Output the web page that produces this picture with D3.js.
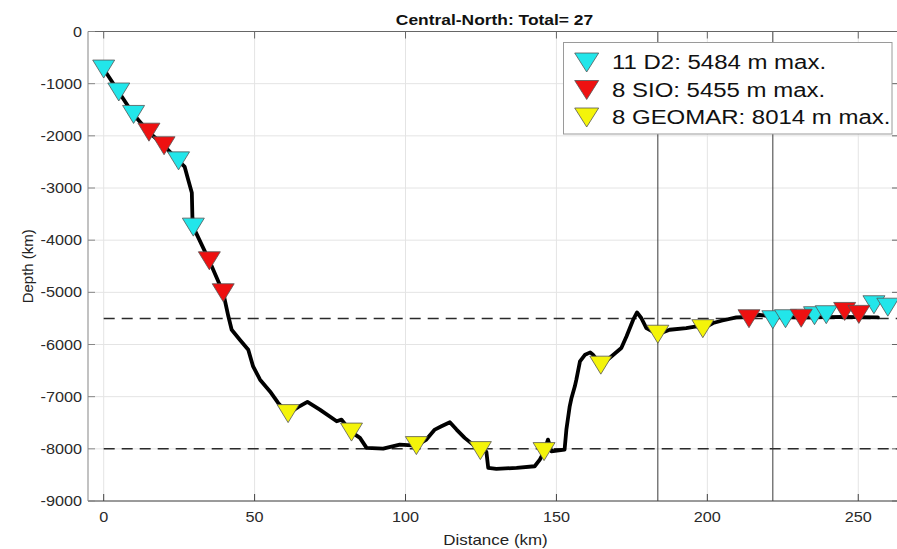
<!DOCTYPE html>
<html>
<head>
<meta charset="utf-8">
<script src="https://cdn.jsdelivr.net/npm/d3@7"></script>
<style>
  html, body { margin: 0; padding: 0; background: #fff; }
  svg { display: block; font-family: "Liberation Sans", Arial, Helvetica, sans-serif; }
</style>
</head>
<body>
<svg id="chart" width="897" height="549"></svg>
<script>
// ---------------- data ----------------
const titleText = "Central-North: Total= 27";
const xLabel = "Distance (km)";
const yLabel = "Depth (km)";
const xTicks = [0, 50, 100, 150, 200, 250];
const yTicks = [0, -1000, -2000, -3000, -4000, -5000, -6000, -7000, -8000, -9000];

// bathymetry profile (km, m)
const profileKm = [0, 5, 9.9, 15, 20, 24.8, 26.8, 28.0, 29.2, 29.4, 29.7, 35, 39.6, 41.3, 42.4, 45.1, 47.9, 49.5, 51.8, 55.1, 57.8, 61.1, 64.4, 67.5, 71.6, 77.2, 78.8, 82.1, 84.9, 87.1, 92.6, 98.1, 103.6, 106.9, 109.7, 111.9, 114.7, 116.9, 119.6, 124.8, 126.8, 127.4, 130.1, 136.8, 142.8, 144.5, 145.9, 147.2, 148.3, 152.7, 153.3, 154.4, 155.0, 156.1, 156.6, 157.8, 159.5, 161.2, 162.1, 164.7, 167.6, 171.5, 173.2, 175.4, 176.7, 178.1, 179.8, 183.6, 187.5, 193.0, 196.4, 198.5, 201.9, 205.0, 209.6, 213.8, 217.3, 221.7, 226.0, 231.0, 235.5, 239.4, 245.5, 250.2, 256.5];
const profileDepth = [-720, -1160, -1590, -1930, -2190, -2480, -2590, -2840, -3090, -3570, -3750, -4395, -5008, -5460, -5716, -5908, -6100, -6420, -6674, -6900, -7120, -7325, -7200, -7100, -7248, -7472, -7440, -7679, -7790, -7982, -7995, -7918, -7938, -7823, -7631, -7568, -7491, -7631, -7790, -8034, -8060, -8365, -8384, -8365, -8334, -8206, -8053, -7823, -8047, -8015, -7631, -7185, -7024, -6802, -6674, -6323, -6195, -6151, -6195, -6396, -6258, -6067, -5845, -5530, -5385, -5492, -5684, -5803, -5717, -5684, -5653, -5697, -5588, -5540, -5480, -5470, -5430, -5470, -5475, -5480, -5480, -5475, -5470, -5475, -5480];

// instrument deployments
const d2Km = [0, 5, 9.9, 24.8, 29.7, 221.7, 225.9, 235.5, 239.4, 255.2, 259.8];
const d2Depth = [-720, -1160, -1590, -2480, -3750, -5525, -5506, -5448, -5429, -5238, -5285];
const sioKm = [15, 20, 35, 39.6, 213.8, 231.1, 245.5, 250.2];
const sioDepth = [-1930, -2190, -4395, -5008, -5506, -5496, -5366, -5423];
const geomarKm = [61.1, 82.1, 103.6, 124.8, 145.9, 164.7, 183.6, 198.5];
const geomarDepth = [-7325, -7679, -7938, -8034, -8053, -6396, -5803, -5697];

const legendLabels = ["11 D2: 5484 m max.", "8 SIO: 5455 m max.", "8 GEOMAR: 8014 m max."];
const refDepths = [-5500, -8000];
const refStartKm = 0;
const vLineKm = [183.6, 221.7];

// ---------------- layout ----------------
const svg = d3.select("#chart");
const L = 88, R = 899, T = 31.5, B = 501;
const x = d3.scaleLinear().domain([-5.2, 263.5]).range([L, R]);
const y = d3.scaleLinear().domain([-9000, 0]).range([B, T]);
const SX = 1.16; // horizontal stretch of the original raster

function stext(g, px, py, str, opts) {
  const t = g.append("text")
    .attr("transform", `translate(${px},${py}) scale(${opts.sx || SX},1)`)
    .attr("text-anchor", opts.anchor || "start")
    .style("font-size", opts.size + "px")
    .style("fill", opts.fill || "#222")
    .text(str);
  if (opts.bold) t.style("font-weight", "bold");
  return t;
}

// grid
const grid = svg.append("g");
grid.selectAll(".gx").data(xTicks).join("line")
  .attr("x1", d => x(d)).attr("x2", d => x(d)).attr("y1", T).attr("y2", B)
  .attr("stroke", "#e4e4e4").attr("stroke-width", 1);
grid.selectAll(".gy").data(yTicks).join("line")
  .attr("x1", L).attr("x2", R).attr("y1", d => y(d)).attr("y2", d => y(d))
  .attr("stroke", "#e4e4e4").attr("stroke-width", 1);

// reference dashed lines
svg.append("g").selectAll("line").data(refDepths).join("line")
  .attr("x1", x(refStartKm)).attr("x2", R).attr("y1", d => y(d)).attr("y2", d => y(d))
  .attr("stroke", "#2a2a2a").attr("stroke-width", 1.5).attr("stroke-dasharray", "11,7");

// vertical lines
svg.append("g").selectAll("line").data(vLineKm).join("line")
  .attr("x1", d => x(d)).attr("x2", d => x(d)).attr("y1", T).attr("y2", B)
  .attr("stroke", "#3a3a3a").attr("stroke-width", 1);

// profile
const prof = profileKm.map((k, i) => [k, profileDepth[i]]);
svg.append("path").datum(prof)
  .attr("d", d3.line().x(d => x(d[0])).y(d => y(d[1])))
  .attr("fill", "none").attr("stroke", "#000").attr("stroke-width", 3.8)
  .attr("stroke-linejoin", "round").attr("stroke-linecap", "round");

// markers
function tri(w, h) { return `M${-w/2},${-h/2} L${w/2},${-h/2} L0,${h/2} Z`; }
const series = [
  { km: d2Km, dep: d2Depth, color: "#22e6ea" },
  { km: sioKm, dep: sioDepth, color: "#ee1111" },
  { km: geomarKm, dep: geomarDepth, color: "#f4f40a" }
];
series.forEach(s => {
  svg.append("g").selectAll("path").data(s.km.map((k, i) => [k, s.dep[i]])).join("path")
    .attr("transform", d => `translate(${x(d[0])},${y(d[1])})`)
    .attr("d", tri(22, 18))
    .attr("fill", s.color).attr("stroke", "#555").attr("stroke-width", 0.8);
});

// axes box
const ax = svg.append("g");
ax.append("line").attr("x1", L).attr("x2", R).attr("y1", B).attr("y2", B).attr("stroke", "#444").attr("stroke-width", 1.2);
ax.append("line").attr("x1", L).attr("x2", R).attr("y1", T).attr("y2", T).attr("stroke", "#666").attr("stroke-width", 1.2);
ax.append("line").attr("x1", L).attr("x2", L).attr("y1", T).attr("y2", B).attr("stroke", "#999").attr("stroke-width", 1.2);
ax.append("line").attr("x1", R).attr("x2", R).attr("y1", T).attr("y2", B).attr("stroke", "#666").attr("stroke-width", 1.2);
const TL = 7;
ax.selectAll(".tb").data(xTicks).join("line")
  .attr("x1", d => x(d)).attr("x2", d => x(d)).attr("y1", B).attr("y2", B - TL).attr("stroke", "#444");
ax.selectAll(".tt").data(xTicks).join("line")
  .attr("x1", d => x(d)).attr("x2", d => x(d)).attr("y1", T).attr("y2", T + TL).attr("stroke", "#666");
ax.selectAll(".tl").data(yTicks).join("line")
  .attr("x1", L).attr("x2", L + TL).attr("y1", d => y(d)).attr("y2", d => y(d)).attr("stroke", "#888");
ax.selectAll(".tr").data(yTicks).join("line")
  .attr("x1", R).attr("x2", R - TL).attr("y1", d => y(d)).attr("y2", d => y(d)).attr("stroke", "#666");

// tick labels
xTicks.forEach(t => stext(ax, x(t), 522, String(t), { size: 14, anchor: "middle", fill: "#2a2a2a" }));
yTicks.forEach(t => stext(ax, 82, y(t) + 5, String(t), { size: 14, anchor: "end", fill: "#2a2a2a" }));

// axis labels
stext(svg, 495.5, 545, xLabel, { size: 15, anchor: "middle", sx: 1.13 });
svg.append("text")
  .attr("transform", `translate(33,${(T + B) / 2}) rotate(-90)`)
  .attr("text-anchor", "middle").style("font-size", "15px").style("fill", "#222")
  .text(yLabel);

// title
stext(svg, (L + R) / 2 + 1, 25, titleText, { size: 15, anchor: "middle", bold: true, fill: "#111" });

// legend
const lg = svg.append("g");
lg.append("rect").attr("x", 563.5).attr("y", 42.5).attr("width", 328.5).attr("height", 91.5)
  .attr("fill", "#fff").attr("stroke", "#9a9a9a").attr("stroke-width", 1);
const rowY = [62.5, 90, 117.5];
legendLabels.forEach((lab, i) => {
  lg.append("path").attr("transform", `translate(586.7,${rowY[i]})`).attr("d", tri(24, 19))
    .attr("fill", series[i].color).attr("stroke", "#555").attr("stroke-width", 0.8);
  stext(lg, 612, rowY[i] + 6.5, lab, { size: 19.5, sx: 1.23, fill: "#111" });
});
</script>
</body>
</html>
